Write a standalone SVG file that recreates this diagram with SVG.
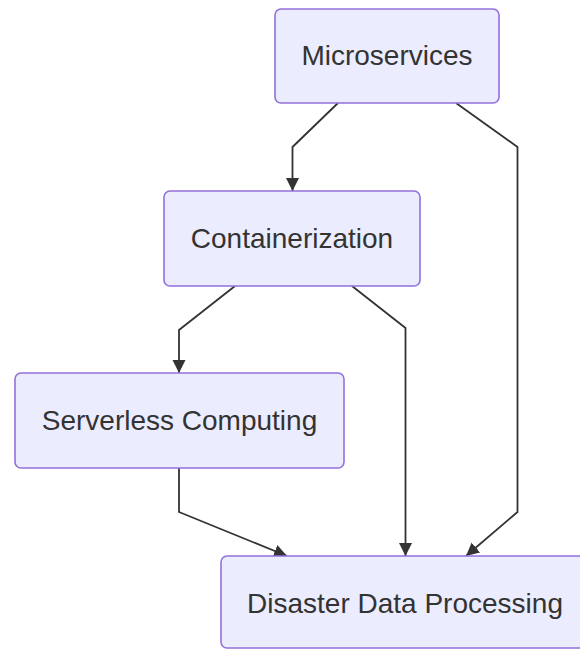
<svg xmlns="http://www.w3.org/2000/svg" width="580" height="650" viewBox="0 0 580 650">
<style>
.node rect{fill:#ECECFF;stroke:#9370DB;stroke-width:1.6}
.node text{font-family:"Liberation Sans",Arial,sans-serif;font-size:28px;fill:#333;text-anchor:middle}
.edge{fill:none;stroke:#333;stroke-width:1.8;marker-end:url(#arr)}
</style>
<defs>
<marker id="arr" markerUnits="userSpaceOnUse" markerWidth="14" markerHeight="14" refX="13" refY="6.5" orient="auto">
<path d="M0,0 L13,6.5 L0,13 z" fill="#333"/>
</marker>
</defs>
<rect width="580" height="650" fill="#fff"/>
<g id="connectors">
<path class="edge" d="M338,103 L292.5,147 L292.5,191"/>
<path class="edge" d="M456,103 L517.5,147 L517.5,512 L466,556"/>
<path class="edge" d="M235,286 L179,330 L179,373"/>
<path class="edge" d="M352,286 L405.5,328 L405.5,556"/>
<path class="edge" d="M179,468 L179,512 L287,556"/>
</g>
<g id="microservices" class="node">
<rect x="275" y="9" width="224" height="94" rx="6"/>
<text x="387" y="65">Microservices</text>
</g>
<g id="containerization" class="node">
<rect x="164" y="191" width="256" height="95" rx="6"/>
<text x="292" y="248">Containerization</text>
</g>
<g id="serverless" class="node">
<rect x="15" y="373" width="329" height="95" rx="6"/>
<text x="179.5" y="430">Serverless Computing</text>
</g>
<g id="disaster" class="node">
<rect x="221" y="556" width="368" height="92" rx="6"/>
<text x="405" y="613">Disaster Data Processing</text>
</g>
</svg>
